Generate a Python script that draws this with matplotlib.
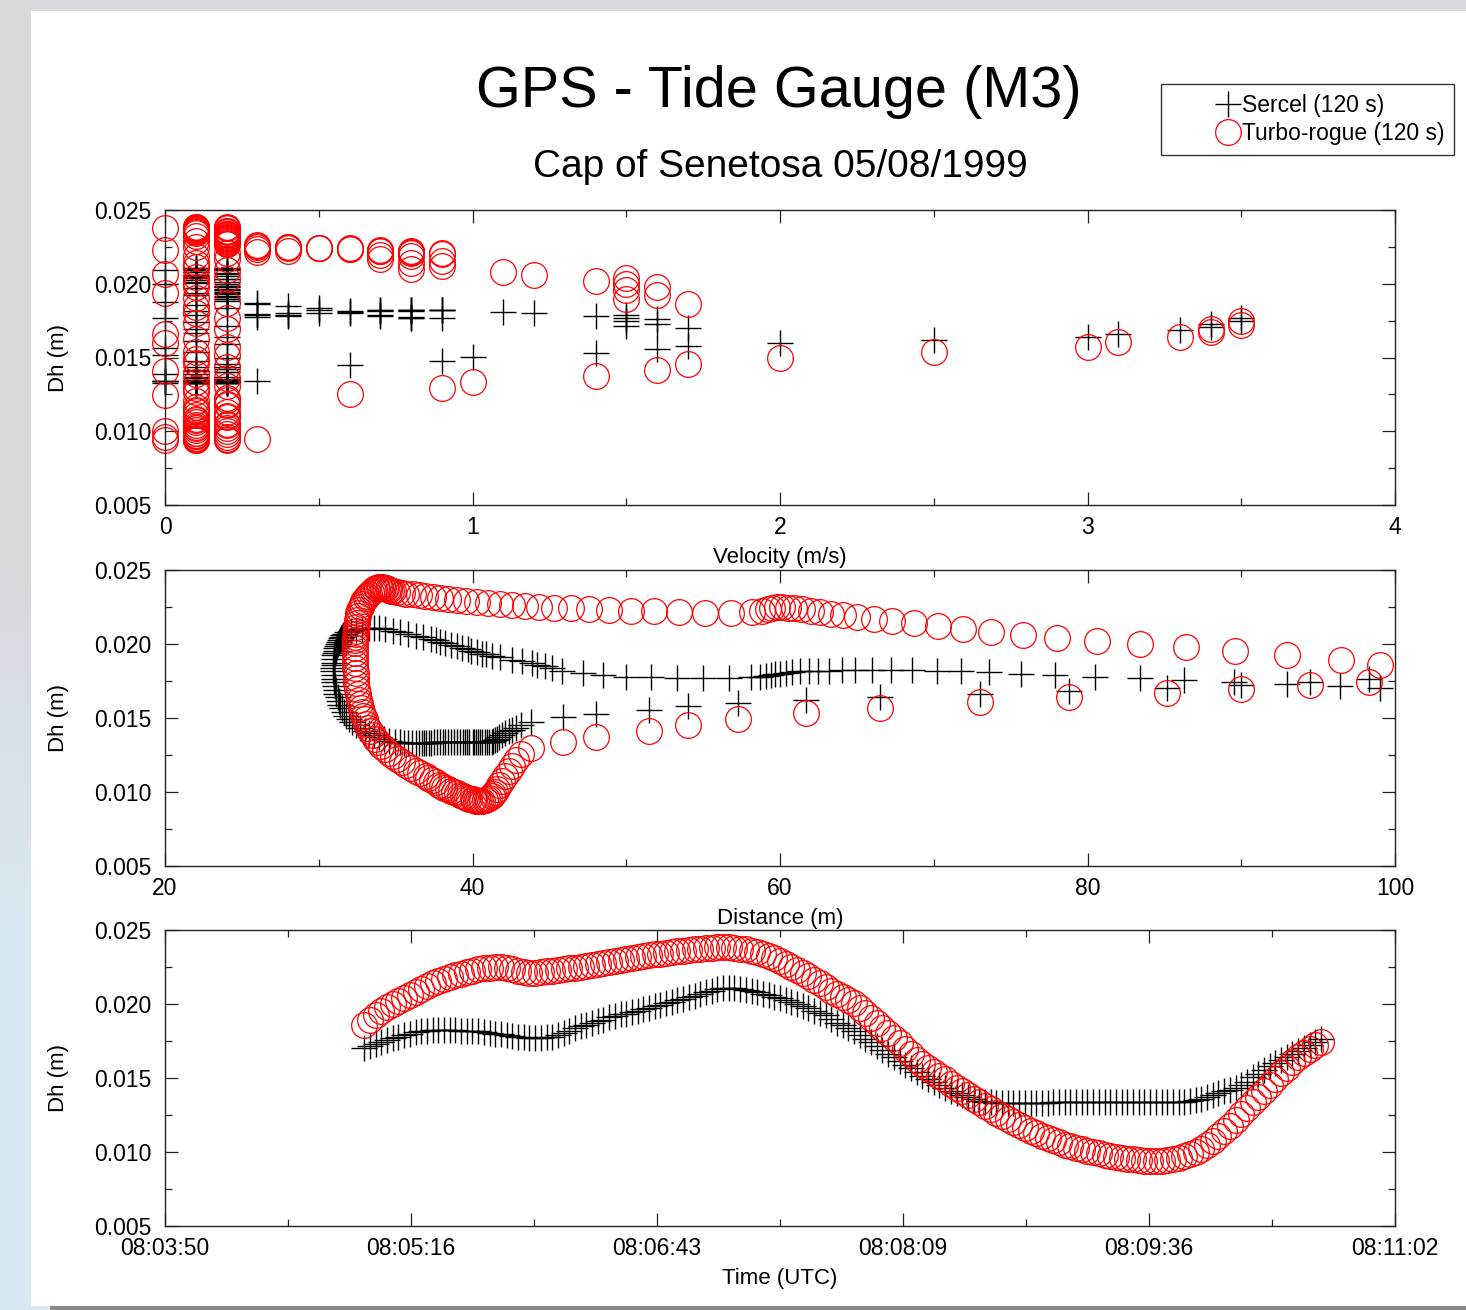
#!/usr/bin/env python3
# -*- coding: utf-8 -*-

import numpy as np
import matplotlib
matplotlib.use("Agg")
import matplotlib.pyplot as plt
from matplotlib.lines import Line2D
from matplotlib.patches import Rectangle
from matplotlib.legend_handler import HandlerLine2D
from matplotlib.ticker import (MultipleLocator, FixedLocator, FixedFormatter,
                               FormatStrFormatter)

plt.rcParams['font.family'] = ['Liberation Sans', 'DejaVu Sans']

# one epoch every 2 s, the first one at 08:05:00 UTC
first_epoch = "08:05:00"
epoch_step = 2

# height difference GPS - tide gauge (m)
turbo_dh = [
    0.01860, 0.01895, 0.01925, 0.01955, 0.01980, 0.02000, 0.02020, 0.02040, 0.02060, 0.02080,
    0.02100, 0.02120, 0.02140, 0.02155, 0.02170, 0.02185, 0.02195, 0.02205, 0.02215, 0.02225,
    0.02235, 0.02240, 0.02245, 0.02250, 0.02250, 0.02245, 0.02235, 0.02225, 0.02215, 0.02210,
    0.02210, 0.02215, 0.02220, 0.02225, 0.02230, 0.02235, 0.02240, 0.02245, 0.02250, 0.02255,
    0.02265, 0.02270, 0.02275, 0.02285, 0.02290, 0.02300, 0.02305, 0.02310, 0.02315, 0.02325,
    0.02330, 0.02335, 0.02340, 0.02345, 0.02350, 0.02355, 0.02360, 0.02365, 0.02370, 0.02375,
    0.02380, 0.02380, 0.02385, 0.02385, 0.02385, 0.02380, 0.02375, 0.02370, 0.02360, 0.02350,
    0.02340, 0.02325, 0.02310, 0.02290, 0.02270, 0.02250, 0.02230, 0.02210, 0.02190, 0.02165,
    0.02140, 0.02115, 0.02090, 0.02065, 0.02045, 0.02030, 0.02005, 0.01975, 0.01940, 0.01905,
    0.01870, 0.01840, 0.01805, 0.01770, 0.01735, 0.01695, 0.01660, 0.01625, 0.01595, 0.01570,
    0.01540, 0.01515, 0.01490, 0.01460, 0.01435, 0.01410, 0.01385, 0.01360, 0.01335, 0.01310,
    0.01290, 0.01265, 0.01245, 0.01225, 0.01205, 0.01185, 0.01165, 0.01145, 0.01130, 0.01110,
    0.01095, 0.01080, 0.01065, 0.01050, 0.01040, 0.01030, 0.01020, 0.01010, 0.01000, 0.00990,
    0.00980, 0.00975, 0.00965, 0.00960, 0.00955, 0.00950, 0.00945, 0.00940, 0.00940, 0.00940,
    0.00940, 0.00945, 0.00950, 0.00960, 0.00970, 0.00985, 0.01000, 0.01020, 0.01045, 0.01075,
    0.01105, 0.01140, 0.01175, 0.01215, 0.01255, 0.01295, 0.01335, 0.01375, 0.01415, 0.01455,
    0.01495, 0.01535, 0.01570, 0.01605, 0.01640, 0.01670, 0.01695, 0.01720, 0.01745,
]

sercel_dh = [
    0.01700, 0.01715, 0.01730, 0.01745, 0.01760, 0.01770, 0.01780, 0.01790, 0.01800, 0.01810,
    0.01815, 0.01820, 0.01825, 0.01825, 0.01825, 0.01825, 0.01825, 0.01820, 0.01820, 0.01815,
    0.01815, 0.01810, 0.01805, 0.01800, 0.01795, 0.01790, 0.01785, 0.01780, 0.01775, 0.01770,
    0.01770, 0.01770, 0.01775, 0.01780, 0.01790, 0.01805, 0.01820, 0.01835, 0.01850, 0.01860,
    0.01870, 0.01885, 0.01895, 0.01910, 0.01920, 0.01930, 0.01935, 0.01945, 0.01955, 0.01965,
    0.01975, 0.01985, 0.01995, 0.02005, 0.02015, 0.02025, 0.02035, 0.02045, 0.02055, 0.02065,
    0.02080, 0.02090, 0.02100, 0.02110, 0.02110, 0.02110, 0.02100, 0.02095, 0.02090, 0.02080,
    0.02070, 0.02060, 0.02050, 0.02040, 0.02030, 0.02015, 0.02000, 0.01985, 0.01970, 0.01955,
    0.01940, 0.01925, 0.01900, 0.01875, 0.01855, 0.01835, 0.01815, 0.01790, 0.01765, 0.01740,
    0.01715, 0.01690, 0.01665, 0.01640, 0.01615, 0.01590, 0.01565, 0.01540, 0.01515, 0.01495,
    0.01475, 0.01455, 0.01435, 0.01415, 0.01400, 0.01385, 0.01370, 0.01355, 0.01345, 0.01340,
    0.01335, 0.01330, 0.01330, 0.01330, 0.01330, 0.01330, 0.01330, 0.01330, 0.01330, 0.01330,
    0.01330, 0.01335, 0.01335, 0.01335, 0.01335, 0.01335, 0.01335, 0.01340, 0.01340, 0.01340,
    0.01340, 0.01340, 0.01340, 0.01340, 0.01340, 0.01340, 0.01340, 0.01340, 0.01340, 0.01340,
    0.01340, 0.01340, 0.01340, 0.01340, 0.01340, 0.01345, 0.01350, 0.01360, 0.01370, 0.01385,
    0.01400, 0.01410, 0.01420, 0.01435, 0.01450, 0.01475, 0.01505, 0.01530, 0.01555, 0.01580,
    0.01600, 0.01620, 0.01640, 0.01660, 0.01685, 0.01705, 0.01725, 0.01745, 0.01765,
]

# distance to the tide gauge (m)
turbo_dist = [
    99.0, 96.5, 93.0, 89.6, 86.4, 83.4, 80.6, 78.0, 75.8, 73.7,
    71.9, 70.3, 68.7, 67.3, 66.1, 65.0, 64.1, 63.3, 62.6, 62.0,
    61.4, 60.9, 60.5, 60.1, 59.8, 59.5, 59.2, 58.8, 58.2, 56.8,
    55.1, 53.4, 51.8, 50.3, 48.9, 47.6, 46.4, 45.3, 44.3, 43.4,
    42.6, 41.8, 41.0, 40.3, 39.6, 39.0, 38.4, 37.9, 37.4, 36.9,
    36.5, 36.1, 35.7, 35.4, 35.1, 34.85, 34.7, 34.6, 34.5, 34.4,
    34.3, 34.2, 34.1, 34.0, 33.9, 33.8, 33.7, 33.6, 33.5, 33.4,
    33.3, 33.15, 33.05, 32.9, 32.8, 32.75, 32.65, 32.57, 32.53, 32.5,
    32.47, 32.44, 32.41, 32.40, 32.39, 32.38, 32.37, 32.37, 32.36, 32.36,
    32.37, 32.38, 32.40, 32.42, 32.45, 32.48, 32.53, 32.60, 32.67, 32.74,
    32.82, 32.90, 33.00, 33.10, 33.22, 33.35, 33.50, 33.65, 33.85, 34.05,
    34.30, 34.55, 34.85, 35.10, 35.40, 35.70, 36.00, 36.30, 36.60, 36.95,
    37.10, 37.35, 37.60, 37.85, 38.00, 38.15, 38.40, 38.60, 38.80, 39.00,
    39.20, 39.35, 39.50, 39.65, 39.80, 40.00, 40.10, 40.20, 40.35, 40.50,
    40.65, 40.80, 40.95, 41.10, 41.25, 41.35, 41.45, 41.60, 41.75, 41.95,
    42.10, 42.35, 42.55, 42.80, 43.15, 43.80, 45.90, 48.00, 51.50, 54.00,
    57.30, 61.70, 66.50, 73.00, 78.80, 85.20, 90.00, 94.50, 98.30,
]

sercel_dist = [
    99.0, 96.4, 93.0, 89.5, 86.3, 83.4, 80.5, 77.9, 75.7, 73.6,
    71.8, 70.2, 68.6, 67.2, 66.0, 64.9, 64.0, 63.2, 62.5, 61.9,
    61.3, 60.8, 60.4, 60.0, 59.7, 59.4, 59.1, 58.7, 58.1, 56.7,
    55.0, 53.3, 51.6, 50.0, 48.5, 47.2, 45.8, 45.2, 44.7, 44.2,
    43.9, 43.2, 42.6, 41.8, 41.3, 40.9, 40.6, 40.3, 39.9, 39.7,
    39.3, 39.0, 38.6, 38.2, 37.9, 37.6, 37.3, 36.8, 36.3, 35.8,
    35.3, 34.8, 34.3, 33.9, 33.6, 33.3, 32.8, 32.4, 32.1, 31.85,
    31.7, 31.6, 31.5, 31.45, 31.4, 31.3, 31.25, 31.2, 31.15, 31.1,
    31.05, 31.02, 31.0, 30.97, 30.96, 30.95, 30.95, 30.97, 31.0, 31.02,
    31.05, 31.1, 31.15, 31.22, 31.3, 31.4, 31.52, 31.65, 31.8, 31.95,
    32.15, 32.4, 32.7, 33.0, 33.3, 33.6, 33.9, 34.25, 34.6, 34.95,
    35.3, 35.55, 35.8, 36.05, 36.3, 36.5, 36.7, 36.85, 37.0, 37.15,
    37.30, 37.50, 37.70, 37.90, 38.05, 38.20, 38.40, 38.60, 38.80, 39.00,
    39.20, 39.35, 39.50, 39.65, 39.80, 40.00, 40.10, 40.20, 40.35, 40.50,
    40.65, 40.80, 40.95, 41.10, 41.25, 41.35, 41.45, 41.60, 41.75, 41.95,
    42.10, 42.35, 42.55, 42.80, 43.15, 43.80, 45.90, 48.00, 51.50, 54.00,
    57.30, 61.70, 66.50, 73.00, 78.80, 85.20, 90.00, 94.50, 98.30,
]

# boat velocity (m/s)
velocity = [
    1.7, 1.5, 1.6, 1.5, 1.6, 1.5, 1.4, 1.5, 1.2, 1.1,
    0.8, 0.9, 0.8, 0.9, 0.7, 0.8, 0.7, 0.9, 0.8, 0.7,
    0.6, 0.6, 0.5, 0.4, 0.3, 0.4, 0.3, 0.4, 0.3, 0.8,
    0.9, 0.8, 0.8, 0.7, 0.7, 0.6, 0.5, 0.5, 0.4, 0.3,
    0.3, 0.2, 0.2, 0.2, 0.2, 0.2, 0.2, 0.2, 0.2, 0.2,
    0.2, 0.2, 0.2, 0.1, 0.2, 0.1, 0.2, 0.1, 0.1, 0.2,
    0.1, 0.0, 0.1, 0.1, 0.2, 0.1, 0.2, 0.1, 0.2, 0.1,
    0.2, 0.1, 0.2, 0.1, 0.2, 0.1, 0.0, 0.2, 0.1, 0.2,
    0.1, 0.1, 0.2, 0.0, 0.1, 0.2, 0.1, 0.1, 0.0, 0.1,
    0.2, 0.1, 0.1, 0.2, 0.1, 0.2, 0.0, 0.1, 0.0, 0.2,
    0.1, 0.2, 0.1, 0.1, 0.2, 0.0, 0.1, 0.2, 0.1, 0.2,
    0.1, 0.1, 0.0, 0.2, 0.1, 0.2, 0.1, 0.1, 0.2, 0.1,
    0.2, 0.1, 0.1, 0.2, 0.1, 0.1, 0.2, 0.1, 0.0, 0.1,
    0.2, 0.1, 0.1, 0.0, 0.1, 0.2, 0.1, 0.1, 0.0, 0.2,
    0.1, 0.3, 0.1, 0.2, 0.1, 0.1, 0.2, 0.1, 0.2, 0.1,
    0.2, 0.1, 0.2, 0.2, 0.6, 0.9, 1.0, 1.4, 1.6, 1.7,
    2.0, 2.5, 3.0, 3.1, 3.3, 3.4, 3.4, 3.5, 3.5,
]

time_ticks = ["08:03:50", "08:05:16", "08:06:43", "08:08:09", "08:09:36", "08:11:02"]

W, H = 1466, 1310


def hms(s):
    h, m, sec = (int(v) for v in s.split(":"))
    return h * 3600 + m * 60 + sec


def px_axes(fig, left, top, right, bottom):
    return fig.add_axes([left / W, 1 - bottom / H, (right - left) / W, (bottom - top) / H])


def dress(ax, xlabel):
    ax.set_ylim(0.005, 0.025)
    ax.yaxis.set_major_locator(MultipleLocator(0.005))
    ax.yaxis.set_minor_locator(MultipleLocator(0.0025))
    ax.yaxis.set_major_formatter(FormatStrFormatter('%.3f'))
    ax.tick_params(which='both', direction='in', top=True, right=True,
                   colors='#222222', labelcolor='black', labelsize=16.5)
    ax.tick_params(which='major', length=9.5, width=0.9)
    ax.tick_params(which='minor', length=5, width=0.9)
    ax.tick_params(axis='x', pad=8)
    ax.tick_params(axis='y', pad=10)
    for s in ax.spines.values():
        s.set_linewidth(1.0)
        s.set_color('#222222')
    ax.set_xlabel(xlabel, fontsize=16, labelpad=6)
    ax.set_ylabel('Dh (m)', fontsize=16)
    ax.yaxis.set_label_coords(-0.078, 0.5)


def draw(ax, xb, xr):
    ax.plot(xb, sercel_dh, ls='none', marker='+', color='black', ms=19, mew=1.0, clip_on=False)
    ax.plot(xr, turbo_dh, ls='none', marker='o', mfc='none', mec='red', ms=18.5, mew=0.9,
            clip_on=False)


def main():
    fig = plt.figure(figsize=(W / 100, H / 100), dpi=100)

    # page behind the plot
    bg = fig.add_axes([0, 0, 1, 1], zorder=-10)
    rows = np.linspace(0, 1, 200)[:, None]
    mix = np.clip((rows - 0.45) / 0.25, 0, 1)
    top_c = np.array([0.85, 0.85, 0.87])
    bot_c = np.array([0.85, 0.91, 0.95])
    grad = (1 - mix)[:, :, None] * top_c + mix[:, :, None] * bot_c
    bg.imshow(grad, aspect='auto', extent=[0, 1, 0, 1])
    bg.add_patch(Rectangle((31 / W, 1 - 1306 / H), (W - 31) / W, (1306 - 11) / H,
                           color='white', lw=0))
    bg.add_patch(Rectangle((50 / W, 0), 1, 4 / H, color='#8a8a8a', lw=0))
    bg.set_xlim(0, 1)
    bg.set_ylim(0, 1)
    bg.axis('off')

    t = hms(first_epoch) + epoch_step * np.arange(len(turbo_dh))

    # Dh against velocity
    ax1 = px_axes(fig, 165, 210, 1395, 505)
    draw(ax1, velocity, velocity)
    ax1.set_xlim(0, 4)
    ax1.xaxis.set_major_locator(MultipleLocator(1))
    ax1.xaxis.set_minor_locator(MultipleLocator(0.5))
    ax1.xaxis.set_major_formatter(FormatStrFormatter('%d'))
    dress(ax1, 'Velocity (m/s)')

    # Dh against distance
    ax2 = px_axes(fig, 165, 570, 1395, 866)
    draw(ax2, sercel_dist, turbo_dist)
    ax2.set_xlim(20, 100)
    ax2.xaxis.set_major_locator(MultipleLocator(20))
    ax2.xaxis.set_minor_locator(MultipleLocator(10))
    ax2.xaxis.set_major_formatter(FormatStrFormatter('%d'))
    dress(ax2, 'Distance (m)')

    # Dh against time
    ax3 = px_axes(fig, 165, 930, 1395, 1226)
    draw(ax3, t, t)
    lo, hi = hms(time_ticks[0]), hms(time_ticks[-1])
    ax3.set_xlim(lo, hi)
    ax3.xaxis.set_major_locator(FixedLocator(np.linspace(lo, hi, len(time_ticks))))
    ax3.xaxis.set_major_formatter(FixedFormatter(time_ticks))
    ax3.xaxis.set_minor_locator(FixedLocator(np.linspace(lo, hi, 2 * len(time_ticks) - 1)))
    dress(ax3, 'Time (UTC)')

    fig.text(779 / W, 1 - 107 / H, 'GPS - Tide Gauge (M3)', ha='center', va='baseline',
             fontsize=41.5)
    fig.text(780 / W, 1 - 177 / H, 'Cap of Senetosa 05/08/1999', ha='center',
             va='baseline', fontsize=28)

    handles = [
        Line2D([], [], ls='none', marker='+', color='black', ms=19, mew=1.0),
        Line2D([], [], ls='none', marker='o', mfc='none', mec='red', ms=18.5, mew=0.9),
    ]
    fig.legend(handles, ['Sercel (120 s)', 'Turbo-rogue (120 s)'],
               loc='upper left', bbox_to_anchor=(1161 / W, 1 - 84 / H),
               bbox_transform=fig.transFigure, frameon=True, fancybox=False,
               edgecolor='#333333', framealpha=1, fontsize=16.5, handlelength=3.1,
               handletextpad=0.0, borderpad=0.42, labelspacing=0.25, borderaxespad=0,
               handler_map={h: HandlerLine2D(numpoints=1, xpad=1.9) for h in handles})

    fig.savefig('out.png', dpi=100)


if __name__ == '__main__':
    main()
